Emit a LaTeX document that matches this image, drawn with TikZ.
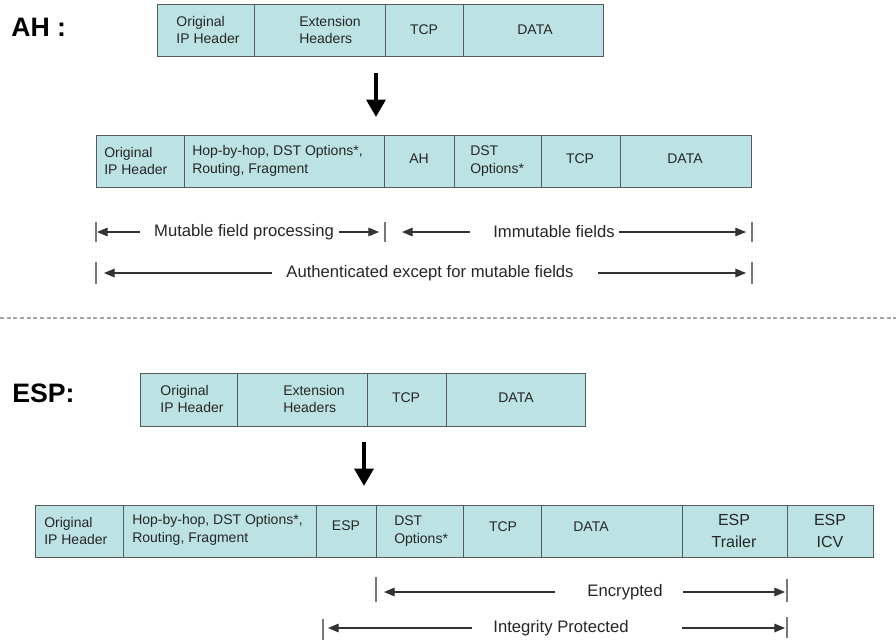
\documentclass[tikz,border=0pt]{standalone}
\usepackage{fontspec}
\setmainfont{Liberation Sans}
\usetikzlibrary{arrows.meta}
\definecolor{cellfill}{RGB}{188,226,227}
\definecolor{celledge}{RGB}{85,90,90}
\definecolor{tickgray}{RGB}{120,120,120}
\newcommand\mkcell[5]{\node[cell, minimum width={(#3-#2)*0.75pt}, minimum height={(#5-#4)*0.75pt}] (#1) at (#2,#4) {};}
\tikzset{
  cell/.style={draw=celledge, fill=cellfill, line width=0.8pt, rectangle, inner sep=0pt, anchor=north west},
  txt/.style={font=\fontsize{10.5}{13}\selectfont, align=left, inner sep=0pt, text=black!85},
  txtbig/.style={font=\fontsize{12}{16}\selectfont, align=center, inner sep=0pt, text=black!85},
  lbl/.style={font=\fontsize{12.5}{15}\selectfont, inner sep=0pt, text=black!85},
  ticky/.style={draw=tickgray, line width=0.9pt},
  dim/.style={draw=black!80, line width=0.8pt, -{Triangle[length=8pt,width=6.5pt]}},
  bigarrow/.style={draw=black, line width=3pt, -{Triangle[length=13pt,width=14pt]}},
  title/.style={font=\bfseries\fontsize{20}{22}\selectfont, inner sep=0pt, anchor=west},
  sep/.style={draw=gray!70, line width=0.9pt, dash pattern=on 3pt off 2pt},
}
\begin{document}
\begin{tikzpicture}[x=0.75pt,y=-0.75pt]
\useasboundingbox (0,0) rectangle (896,640);

% ---------- AH ----------
\node[title] (ahlbl) at (11,27) {AH :};

\mkcell{a1}{157}{254}{4}{56}
\mkcell{a2}{254}{385}{4}{56}
\mkcell{a3}{385}{463}{4}{56}
\mkcell{a4}{463}{603}{4}{56}
\node[txt] (ta1) at (208,30) {Original\\IP Header};
\node[txt] (ta2) at (330,30) {Extension\\Headers};
\node[txt] (ta3) at (424,30) {TCP};
\node[txt] (ta4) at (535,30) {DATA};

\coordinate (ar1s) at (376,73);
\coordinate (ar1e) at (376,117);
\draw[bigarrow] (ar1s) -- (ar1e);

\mkcell{b1}{96}{184}{135}{187}
\mkcell{b2}{184}{384}{135}{187}
\mkcell{b3}{384}{454}{135}{187}
\mkcell{b4}{454}{541}{135}{187}
\mkcell{b5}{541}{620}{135}{187}
\mkcell{b6}{620}{751}{135}{187}
\node[txt, anchor=west] (tb1) at (104,161) {Original\\IP Header};
\node[txt, anchor=west] (tb2) at (192,161) {Hop-by-hop, DST Options*,\\Routing, Fragment};
\node[txt] (tb3) at (419,159) {AH};
\node[txt, anchor=west] (tb4) at (470,161) {DST\\Options*};
\node[txt] (tb5) at (580,159) {TCP};
\node[txt] (tb6) at (685,159) {DATA};

% mutable / immutable
\coordinate (m1t) at (96,222);   \coordinate (m1b) at (96,242);
\coordinate (m2t) at (385,222);  \coordinate (m2b) at (385,242);
\coordinate (m3t) at (752,222);  \coordinate (m3b) at (752,242);
\draw[ticky] (m1t) -- (m1b);
\draw[ticky] (m2t) -- (m2b);
\draw[ticky] (m3t) -- (m3b);
\node[lbl] (tmut) at (244,232) {Mutable field processing};
\node[lbl] (timm) at (554,232) {Immutable fields};
\coordinate (mA) at (140,232); \coordinate (mAe) at (97,232);
\coordinate (mB) at (339,232); \coordinate (mBe) at (379,232);
\coordinate (mC) at (470,232); \coordinate (mCe) at (402,232);
\coordinate (mD) at (619,232); \coordinate (mDe) at (746,232);
\draw[dim] (mA) -- (mAe);
\draw[dim] (mB) -- (mBe);
\draw[dim] (mC) -- (mCe);
\draw[dim] (mD) -- (mDe);

% authenticated
\coordinate (u1t) at (96,262);  \coordinate (u1b) at (96,284);
\coordinate (u2t) at (752,262); \coordinate (u2b) at (752,284);
\draw[ticky] (u1t) -- (u1b);
\draw[ticky] (u2t) -- (u2b);
\node[lbl] (tauth) at (430,273) {Authenticated except for mutable fields};
\coordinate (uA) at (272,273); \coordinate (uAe) at (104,273);
\coordinate (uB) at (598,273); \coordinate (uBe) at (746,273);
\draw[dim] (uA) -- (uAe);
\draw[dim] (uB) -- (uBe);

% separator
\coordinate (s1) at (0,318); \coordinate (s2) at (896,318);
\draw[sep] (s1) -- (s2);

% ---------- ESP ----------
\node[title] (esplbl) at (12,393) {ESP:};

\mkcell{e1}{140}{237}{373}{426}
\mkcell{e2}{237}{367}{373}{426}
\mkcell{e3}{367}{446}{373}{426}
\mkcell{e4}{446}{585}{373}{426}
\node[txt] (te1) at (192,399) {Original\\IP Header};
\node[txt] (te2) at (314,399) {Extension\\Headers};
\node[txt] (te3) at (406,398) {TCP};
\node[txt] (te4) at (516,398) {DATA};

\coordinate (ar2s) at (364,442);
\coordinate (ar2e) at (364,486);
\draw[bigarrow] (ar2s) -- (ar2e);

\mkcell{c1}{35}{123}{505}{557}
\mkcell{c2}{123}{316}{505}{557}
\mkcell{c3}{316}{376}{505}{557}
\mkcell{c4}{376}{463}{505}{557}
\mkcell{c5}{463}{541}{505}{557}
\mkcell{c6}{541}{682}{505}{557}
\mkcell{c7}{682}{787}{505}{557}
\mkcell{c8}{787}{873}{505}{557}
\node[txt, anchor=west] (tc1) at (44,531) {Original\\IP Header};
\node[txt, anchor=west] (tc2) at (132,530) {Hop-by-hop, DST Options*,\\Routing, Fragment};
\node[txt] (tc3) at (346,526) {ESP};
\node[txt, anchor=west] (tc4) at (394,531) {DST\\Options*};
\node[txt] (tc5) at (503,527) {TCP};
\node[txt] (tc6) at (591,527) {DATA};
\node[txtbig] (tc7) at (734,531) {ESP\\Trailer};
\node[txtbig] (tc8) at (830,531) {ESP\\ICV};

% encrypted
\coordinate (n1t) at (376,577); \coordinate (n1b) at (376,602);
\coordinate (n2t) at (787,579); \coordinate (n2b) at (787,602);
\draw[ticky] (n1t) -- (n1b);
\draw[ticky] (n2t) -- (n2b);
\node[lbl] (tenc) at (625,592) {Encrypted};
\coordinate (nA) at (555,592); \coordinate (nAe) at (384,592);
\coordinate (nB) at (683,592); \coordinate (nBe) at (785,592);
\draw[dim] (nA) -- (nAe);
\draw[dim] (nB) -- (nBe);

% integrity
\coordinate (g1t) at (323,619); \coordinate (g1b) at (323,640);
\coordinate (g2t) at (787,617); \coordinate (g2b) at (787,638);
\draw[ticky] (g1t) -- (g1b);
\draw[ticky] (g2t) -- (g2b);
\node[lbl] (tint) at (561,628) {Integrity Protected};
\coordinate (gA) at (472,628); \coordinate (gAe) at (328,628);
\coordinate (gB) at (682,628); \coordinate (gBe) at (785,628);
\draw[dim] (gA) -- (gAe);
\draw[dim] (gB) -- (gBe);
\end{tikzpicture}
\end{document}
